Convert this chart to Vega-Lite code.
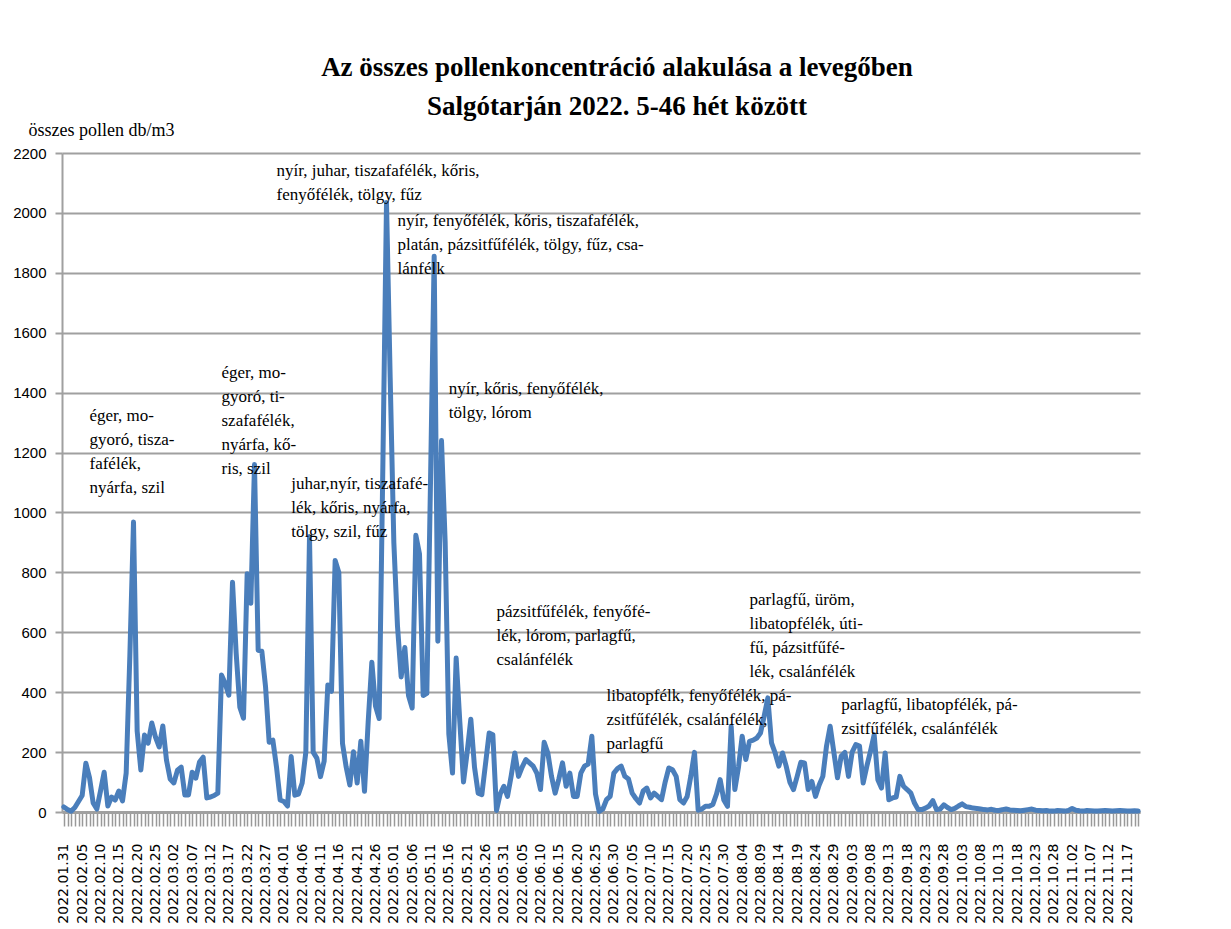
{
"$schema": "https://vega.github.io/schema/vega-lite/v6.json",
"width": 1078, "height": 659,
"autosize": {"type": "none"},
"padding": {"left": 62, "top": 153, "right": 91, "bottom": 117},
"background": "white",
"config": {"view": {"stroke": null}, "font": "Liberation Serif"},
"title": {"text": ["Az összes pollenkoncentráció alakulása a levegőben", "Salgótarján 2022. 5-46 hét között"], "font": "Liberation Serif", "fontSize": 27, "fontWeight": "bold", "lineHeight": 39, "color": "black", "frame": "group", "anchor": "middle", "dx": 16, "offset": 0},
"datasets": {
"pollen": [
{"d":"2022.01.31","v":17},
{"d":"2022.02.01","v":8},{"d":"2022.02.02","v":3},{"d":"2022.02.03","v":15},{"d":"2022.02.04","v":35},{"d":"2022.02.05","v":55},{"d":"2022.02.06","v":163},{"d":"2022.02.07","v":115},{"d":"2022.02.08","v":30},{"d":"2022.02.09","v":10},{"d":"2022.02.10","v":70},{"d":"2022.02.11","v":133},{"d":"2022.02.12","v":20},{"d":"2022.02.13","v":50},{"d":"2022.02.14","v":40},{"d":"2022.02.15","v":70},{"d":"2022.02.16","v":37},{"d":"2022.02.17","v":130},{"d":"2022.02.18","v":520},{"d":"2022.02.19","v":968},{"d":"2022.02.20","v":270},{"d":"2022.02.21","v":140},{"d":"2022.02.22","v":257},{"d":"2022.02.23","v":230},{"d":"2022.02.24","v":297},{"d":"2022.02.25","v":250},{"d":"2022.02.26","v":217},{"d":"2022.02.27","v":287},{"d":"2022.02.28","v":173},
{"d":"2022.03.01","v":110},{"d":"2022.03.02","v":97},{"d":"2022.03.03","v":140},{"d":"2022.03.04","v":150},{"d":"2022.03.05","v":57},{"d":"2022.03.06","v":57},{"d":"2022.03.07","v":133},{"d":"2022.03.08","v":113},{"d":"2022.03.09","v":167},{"d":"2022.03.10","v":183},{"d":"2022.03.11","v":47},{"d":"2022.03.12","v":50},{"d":"2022.03.13","v":55},{"d":"2022.03.14","v":63},{"d":"2022.03.15","v":457},{"d":"2022.03.16","v":430},{"d":"2022.03.17","v":390},{"d":"2022.03.18","v":767},{"d":"2022.03.19","v":530},{"d":"2022.03.20","v":350},{"d":"2022.03.21","v":313},{"d":"2022.03.22","v":795},{"d":"2022.03.23","v":697},{"d":"2022.03.24","v":1160},{"d":"2022.03.25","v":540},{"d":"2022.03.26","v":537},{"d":"2022.03.27","v":420},{"d":"2022.03.28","v":233},{"d":"2022.03.29","v":240},{"d":"2022.03.30","v":150},{"d":"2022.03.31","v":40},
{"d":"2022.04.01","v":35},{"d":"2022.04.02","v":20},{"d":"2022.04.03","v":185},{"d":"2022.04.04","v":56},{"d":"2022.04.05","v":60},{"d":"2022.04.06","v":97},{"d":"2022.04.07","v":200},{"d":"2022.04.08","v":920},{"d":"2022.04.09","v":200},{"d":"2022.04.10","v":180},{"d":"2022.04.11","v":118},{"d":"2022.04.12","v":170},{"d":"2022.04.13","v":424},{"d":"2022.04.14","v":403},{"d":"2022.04.15","v":840},{"d":"2022.04.16","v":800},{"d":"2022.04.17","v":229},{"d":"2022.04.18","v":150},{"d":"2022.04.19","v":90},{"d":"2022.04.20","v":201},{"d":"2022.04.21","v":97},{"d":"2022.04.22","v":236},{"d":"2022.04.23","v":69},{"d":"2022.04.24","v":300},{"d":"2022.04.25","v":500},{"d":"2022.04.26","v":354},{"d":"2022.04.27","v":312},{"d":"2022.04.28","v":1150},{"d":"2022.04.29","v":2035},{"d":"2022.04.30","v":1450},
{"d":"2022.05.01","v":900},{"d":"2022.05.02","v":620},{"d":"2022.05.03","v":451},{"d":"2022.05.04","v":549},{"d":"2022.05.05","v":389},{"d":"2022.05.06","v":347},{"d":"2022.05.07","v":924},{"d":"2022.05.08","v":861},{"d":"2022.05.09","v":389},{"d":"2022.05.10","v":396},{"d":"2022.05.11","v":1100},{"d":"2022.05.12","v":1855},{"d":"2022.05.13","v":570},{"d":"2022.05.14","v":1240},{"d":"2022.05.15","v":900},{"d":"2022.05.16","v":260},{"d":"2022.05.17","v":130},{"d":"2022.05.18","v":514},{"d":"2022.05.19","v":300},{"d":"2022.05.20","v":100},{"d":"2022.05.21","v":200},{"d":"2022.05.22","v":310},{"d":"2022.05.23","v":150},{"d":"2022.05.24","v":63},{"d":"2022.05.25","v":58},{"d":"2022.05.26","v":160},{"d":"2022.05.27","v":264},{"d":"2022.05.28","v":258},{"d":"2022.05.29","v":5},{"d":"2022.05.30","v":60},{"d":"2022.05.31","v":86},
{"d":"2022.06.01","v":52},{"d":"2022.06.02","v":120},{"d":"2022.06.03","v":197},{"d":"2022.06.04","v":119},{"d":"2022.06.05","v":150},{"d":"2022.06.06","v":175},{"d":"2022.06.07","v":164},{"d":"2022.06.08","v":153},{"d":"2022.06.09","v":130},{"d":"2022.06.10","v":75},{"d":"2022.06.11","v":233},{"d":"2022.06.12","v":197},{"d":"2022.06.13","v":119},{"d":"2022.06.14","v":63},{"d":"2022.06.15","v":110},{"d":"2022.06.16","v":164},{"d":"2022.06.17","v":86},{"d":"2022.06.18","v":130},{"d":"2022.06.19","v":52},{"d":"2022.06.20","v":52},{"d":"2022.06.21","v":130},{"d":"2022.06.22","v":153},{"d":"2022.06.23","v":160},{"d":"2022.06.24","v":253},{"d":"2022.06.25","v":60},{"d":"2022.06.26","v":2},{"d":"2022.06.27","v":10},{"d":"2022.06.28","v":41},{"d":"2022.06.29","v":52},{"d":"2022.06.30","v":130},
{"d":"2022.07.01","v":145},{"d":"2022.07.02","v":153},{"d":"2022.07.03","v":119},{"d":"2022.07.04","v":110},{"d":"2022.07.05","v":63},{"d":"2022.07.06","v":45},{"d":"2022.07.07","v":30},{"d":"2022.07.08","v":70},{"d":"2022.07.09","v":80},{"d":"2022.07.10","v":47},{"d":"2022.07.11","v":63},{"d":"2022.07.12","v":52},{"d":"2022.07.13","v":41},{"d":"2022.07.14","v":100},{"d":"2022.07.15","v":147},{"d":"2022.07.16","v":141},{"d":"2022.07.17","v":119},{"d":"2022.07.18","v":41},{"d":"2022.07.19","v":30},{"d":"2022.07.20","v":52},{"d":"2022.07.21","v":120},{"d":"2022.07.22","v":199},{"d":"2022.07.23","v":6},{"d":"2022.07.24","v":10},{"d":"2022.07.25","v":19},{"d":"2022.07.26","v":19},{"d":"2022.07.27","v":25},{"d":"2022.07.28","v":60},{"d":"2022.07.29","v":108},{"d":"2022.07.30","v":40},{"d":"2022.07.31","v":19},
{"d":"2022.08.01","v":286},{"d":"2022.08.02","v":75},{"d":"2022.08.03","v":150},{"d":"2022.08.04","v":253},{"d":"2022.08.05","v":175},{"d":"2022.08.06","v":236},{"d":"2022.08.07","v":240},{"d":"2022.08.08","v":247},{"d":"2022.08.09","v":264},{"d":"2022.08.10","v":320},{"d":"2022.08.11","v":381},{"d":"2022.08.12","v":231},{"d":"2022.08.13","v":197},{"d":"2022.08.14","v":153},{"d":"2022.08.15","v":197},{"d":"2022.08.16","v":153},{"d":"2022.08.17","v":100},{"d":"2022.08.18","v":75},{"d":"2022.08.19","v":119},{"d":"2022.08.20","v":166},{"d":"2022.08.21","v":164},{"d":"2022.08.22","v":75},{"d":"2022.08.23","v":102},{"d":"2022.08.24","v":52},{"d":"2022.08.25","v":90},{"d":"2022.08.26","v":119},{"d":"2022.08.27","v":220},{"d":"2022.08.28","v":286},{"d":"2022.08.29","v":200},{"d":"2022.08.30","v":114},{"d":"2022.08.31","v":186},
{"d":"2022.09.01","v":199},{"d":"2022.09.02","v":119},{"d":"2022.09.03","v":200},{"d":"2022.09.04","v":225},{"d":"2022.09.05","v":220},{"d":"2022.09.06","v":97},{"d":"2022.09.07","v":153},{"d":"2022.09.08","v":203},{"d":"2022.09.09","v":258},{"d":"2022.09.10","v":108},{"d":"2022.09.11","v":80},{"d":"2022.09.12","v":197},{"d":"2022.09.13","v":41},{"d":"2022.09.14","v":47},{"d":"2022.09.15","v":50},{"d":"2022.09.16","v":119},{"d":"2022.09.17","v":86},{"d":"2022.09.18","v":75},{"d":"2022.09.19","v":63},{"d":"2022.09.20","v":30},{"d":"2022.09.21","v":8},{"d":"2022.09.22","v":8},{"d":"2022.09.23","v":13},{"d":"2022.09.24","v":20},{"d":"2022.09.25","v":38},{"d":"2022.09.26","v":8},{"d":"2022.09.27","v":10},{"d":"2022.09.28","v":24},{"d":"2022.09.29","v":15},{"d":"2022.09.30","v":8},
{"d":"2022.10.01","v":12},{"d":"2022.10.02","v":20},{"d":"2022.10.03","v":27},{"d":"2022.10.04","v":18},{"d":"2022.10.05","v":16},{"d":"2022.10.06","v":13},{"d":"2022.10.07","v":12},{"d":"2022.10.08","v":10},{"d":"2022.10.09","v":8},{"d":"2022.10.10","v":7},{"d":"2022.10.11","v":9},{"d":"2022.10.12","v":6},{"d":"2022.10.13","v":5},{"d":"2022.10.14","v":8},{"d":"2022.10.15","v":10},{"d":"2022.10.16","v":7},{"d":"2022.10.17","v":6},{"d":"2022.10.18","v":5},{"d":"2022.10.19","v":4},{"d":"2022.10.20","v":6},{"d":"2022.10.21","v":8},{"d":"2022.10.22","v":10},{"d":"2022.10.23","v":6},{"d":"2022.10.24","v":5},{"d":"2022.10.25","v":4},{"d":"2022.10.26","v":5},{"d":"2022.10.27","v":3},{"d":"2022.10.28","v":3},{"d":"2022.10.29","v":5},{"d":"2022.10.30","v":4},{"d":"2022.10.31","v":3},
{"d":"2022.11.01","v":5},{"d":"2022.11.02","v":12},{"d":"2022.11.03","v":6},{"d":"2022.11.04","v":4},{"d":"2022.11.05","v":3},{"d":"2022.11.06","v":5},{"d":"2022.11.07","v":4},{"d":"2022.11.08","v":3},{"d":"2022.11.09","v":3},{"d":"2022.11.10","v":4},{"d":"2022.11.11","v":5},{"d":"2022.11.12","v":4},{"d":"2022.11.13","v":3},{"d":"2022.11.14","v":4},{"d":"2022.11.15","v":5},{"d":"2022.11.16","v":4},{"d":"2022.11.17","v":3},{"d":"2022.11.18","v":3},{"d":"2022.11.19","v":4},{"d":"2022.11.20","v":3}
],
"notes": [
{"d":"2022.02.07","y":1349,"t":["éger, mo-","gyoró, tisza-","fafélék,","nyárfa, szil"]},
{"d":"2022.03.15","y":1492,"t":["éger, mo-","gyoró, ti-","szafafélék,","nyárfa, kő-","ris, szil"]},
{"d":"2022.03.30","y":2167,"t":["nyír, juhar, tiszafafélék, kőris,","fenyőfélék, tölgy, fűz"]},
{"d":"2022.05.02","y":2000,"t":["nyír, fenyőfélék, kőris, tiszafafélék,","platán, pázsitfűfélék, tölgy, fűz, csa-","lánfélk"]},
{"d":"2022.05.16","y":1439,"t":["nyír, kőris, fenyőfélék,","tölgy, lórom"]},
{"d":"2022.04.03","y":1122,"t":["juhar,nyír, tiszafafé-","lék, kőris, nyárfa,","tölgy, szil, fűz"]},
{"d":"2022.05.29","y":694,"t":["pázsitfűfélék, fenyőfé-","lék, lórom,  parlagfű,","csalánfélék"]},
{"d":"2022.06.28","y":414,"t":["libatopfélk, fenyőfélék, pá-","zsitfűfélék, csalánfélék,","parlagfű"]},
{"d":"2022.08.06","y":735,"t":["parlagfű, üröm,","libatopfélék, úti-","fű, pázsitfűfé-","lék, csalánfélék"]},
{"d":"2022.08.31","y":384,"t":["parlagfű, libatopfélék, pá-","zsitfűfélék, csalánfélék"]}
]
},
"layer": [
{"data": {"name": "pollen"},
 "mark": {"type": "line", "color": "#4a7ebb", "strokeWidth": 5, "strokeJoin": "round", "strokeCap": "round"},
 "encoding": {
  "x": {"field": "d", "type": "ordinal", "sort": "ascending", "scale": {"type": "point", "padding": 0.5},
        "axis": {"title": null, "labelExpr": "indexof(domain('x'), datum.value) % 5 === 0 ? datum.value : ''", "labelAngle": -90, "labelFont": "DejaVu Sans", "labelFontSize": 14, "labelColor": "black", "labelPadding": 17, "labelOverlap": false, "labelBound": false, "tickSize": 14, "tickColor": "#999999", "tickWidth": 1.5, "domainColor": "#a0a0a0", "domainWidth": 3, "grid": false}},
  "y": {"field": "v", "type": "quantitative", "scale": {"domain": [0, 2200], "nice": false},
        "axis": {"values": [0,200,400,600,800,1000,1200,1400,1600,1800,2000,2200], "format": "d", "grid": true, "gridColor": "#a0a0a0", "gridWidth": 2, "domainColor": "#a0a0a0", "domainWidth": 2, "tickColor": "#a0a0a0", "tickSize": 7, "tickWidth": 2, "labelFont": "Liberation Sans", "labelFontSize": 15, "labelColor": "black", "labelPadding": 9, "title": "összes pollen db/m3", "titleAngle": 0, "titleAlign": "left", "titleBaseline": "middle", "titleX": -34, "titleY": -23, "titleFont": "Liberation Serif", "titleFontSize": 18, "titleFontWeight": "normal", "titleColor": "black"}}
 }},
{"data": {"name": "notes"},
 "mark": {"type": "text", "align": "left", "baseline": "top", "font": "Liberation Serif", "fontSize": 17, "lineHeight": 24, "color": "black"},
 "encoding": {
  "x": {"field": "d", "type": "ordinal"},
  "y": {"field": "y", "type": "quantitative"},
  "text": {"field": "t"}
 }}
]
}
